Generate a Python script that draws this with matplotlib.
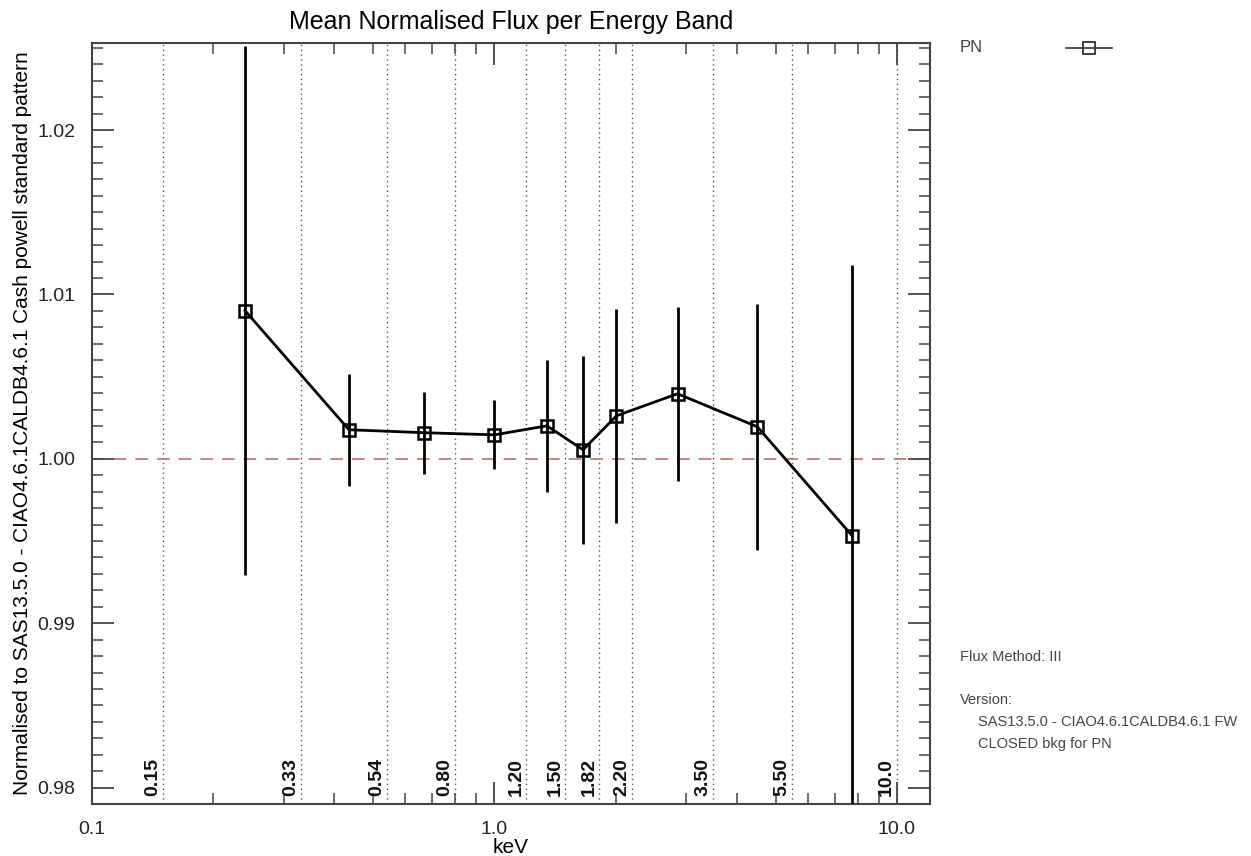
import matplotlib
matplotlib.use("Agg")
import matplotlib.pyplot as plt
from matplotlib.ticker import FixedLocator, FixedFormatter, LogLocator, MultipleLocator, NullFormatter

plt.rcParams["font.family"] = ["Liberation Sans", "DejaVu Sans"]

# band edges (keV) and mean normalised flux per band
band_edges = [0.15, 0.33, 0.54, 0.80, 1.20, 1.50, 1.82, 2.20, 3.50, 5.50, 10.0]
band_labels = ["0.15", "0.33", "0.54", "0.80", "1.20", "1.50", "1.82", "2.20", "3.50", "5.50", "10.0"]
energy = [0.24, 0.435, 0.67, 1.00, 1.35, 1.66, 2.01, 2.85, 4.50, 7.75]
flux = [1.00902, 1.00177, 1.00159, 1.00146, 1.00201, 1.00055, 1.00262, 1.00396, 1.00195, 0.99530]
flux_err = [0.0161, 0.0034, 0.0025, 0.0021, 0.0040, 0.0057, 0.0065, 0.0053, 0.0075, 0.0165]

xticks = [0.1, 1.0, 10.0]
xtick_labels = ["0.1", "1.0", "10.0"]
yticks = [0.98, 0.99, 1.00, 1.01, 1.02]
ytick_labels = ["0.98", "0.99", "1.00", "1.01", "1.02"]

fig = plt.figure(figsize=(12.51, 8.56), dpi=100)
ax = fig.add_axes([0.0735, 0.0607, 0.6699, 0.8891])

for e in band_edges:
    ax.axvline(e, color="#555555", lw=1.0, ls=(0, (1, 2.5)), zorder=1)
for e, lab in zip(band_edges, band_labels):
    ax.text(e * 0.99, 0.9795, lab, rotation=90, ha="right", va="bottom",
            fontsize=14, fontweight="semibold", color="#111111", zorder=2)

ax.axhline(1.0, color="#c07a7a", lw=1.3, ls=(0, (7, 5)), zorder=1)

ax.errorbar(energy, flux, yerr=flux_err, color="black", lw=2.0, elinewidth=2.0,
            capsize=0, marker="s", ms=9, mfc="none", mec="black", mew=1.8, zorder=3)

ax.set_xscale("log")
ax.set_xlim(0.1, 12.08)
ax.set_ylim(0.9790, 1.0253)

ax.xaxis.set_major_locator(FixedLocator(xticks))
ax.xaxis.set_major_formatter(FixedFormatter(xtick_labels))
ax.xaxis.set_minor_locator(LogLocator(base=10, subs=range(2, 10)))
ax.xaxis.set_minor_formatter(NullFormatter())
ax.yaxis.set_major_locator(FixedLocator(yticks))
ax.yaxis.set_major_formatter(FixedFormatter(ytick_labels))
ax.yaxis.set_minor_locator(MultipleLocator(0.001))

ax.tick_params(which="both", direction="in", top=True, right=True, color="#444444",
               labelsize=14, labelcolor="#222222")
ax.tick_params(which="major", length=16, width=1.3, pad=12)
ax.tick_params(which="minor", length=8, width=1.1)
for s in ax.spines.values():
    s.set_color("#444444")
    s.set_linewidth(1.5)

ax.set_title("Mean Normalised Flux per Energy Band", fontsize=18, pad=10)
ax.set_xlabel("keV", fontsize=15, labelpad=0)
ax.set_ylabel("Normalised to SAS13.5.0 - CIAO4.6.1CALDB4.6.1 Cash powell standard pattern",
              fontsize=15, labelpad=4)

# legend and notes on the right
fig.text(960 / 1251, 1 - 47 / 856, "PN", fontsize=12, color="#444444", va="center")
fig.add_artist(plt.Line2D([1066 / 1251, 1112 / 1251], [1 - 48 / 856] * 2, color="#333333", lw=1.2))
fig.add_artist(plt.Line2D([1089 / 1251], [1 - 48 / 856], marker="s", ms=8, mfc="none",
                          mec="#333333", mew=1.3))
notes_color = "#444444"
fig.text(960 / 1251, 1 - 657 / 856, "Flux Method: III", fontsize=10.5, color=notes_color, va="center")
fig.text(960 / 1251, 1 - 700 / 856, "Version:", fontsize=10.5, color=notes_color, va="center")
fig.text(978 / 1251, 1 - 722 / 856, "SAS13.5.0 - CIAO4.6.1CALDB4.6.1 FW", fontsize=10.5,
         color=notes_color, va="center")
fig.text(978 / 1251, 1 - 744 / 856, "CLOSED bkg for PN", fontsize=10.5, color=notes_color, va="center")

fig.savefig("out.png", dpi=100)
